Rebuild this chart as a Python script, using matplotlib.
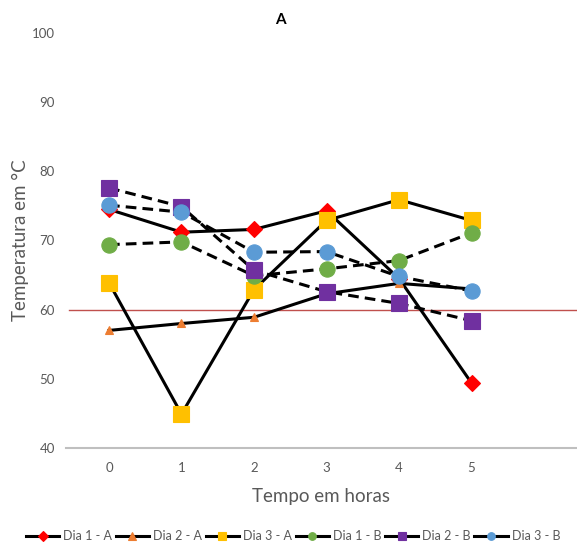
import matplotlib
matplotlib.use("Agg")
import matplotlib.pyplot as plt

plt.rcParams['font.family'] = ['Lato', 'DejaVu Sans']

hours = [0, 1, 2, 3, 4, 5]
tick_labels = ["0", "1", "2", "3", "4", "5"]

dia1_a = [74.5, 71.2, 71.6, 74.3, 64.5, 49.4]
dia2_a = [57.0, 58.0, 58.9, 62.3, 63.8, 63.0]
dia3_a = [63.9, 44.9, 62.9, 72.9, 75.9, 72.9]
dia1_b = [69.4, 69.8, 64.9, 65.9, 67.1, 71.1]
dia2_b = [77.6, 74.9, 65.7, 62.6, 60.9, 58.4]
dia3_b = [75.1, 74.1, 68.3, 68.4, 64.8, 62.7]

names = ["Dia 1 - A", "Dia 2 - A", "Dia 3 - A", "Dia 1 - B", "Dia 2 - B", "Dia 3 - B"]
series = [dia1_a, dia2_a, dia3_a, dia1_b, dia2_b, dia3_b]
colors = ["#FF0000", "#ED7D31", "#FFC000", "#70AD47", "#7030A0", "#5B9BD5"]
markers = ["D", "^", "s", "o", "s", "o"]
msizes = [8, 6, 11.5, 11, 11, 11]
styles = ["-", "-", "-", (0, (3.5, 2)), (0, (3.5, 2)), (0, (3.5, 2))]

W, H = 577, 543
fig = plt.figure(figsize=(W / 100, H / 100), dpi=100)
ax = fig.add_axes([66 / W, (H - 448) / H, (577 - 66) / W, (448 - 33) / H])

gray = "#595959"
ax.axhline(60, color="#C0504D", lw=1.0, zorder=1, xmin=0.006)

for name, vals, c, m, ms, ls in zip(names, series, colors, markers, msizes, styles):
    ax.plot(hours, vals, color="black", lw=2.2, linestyle=ls, marker=m,
            markersize=ms, markerfacecolor=c, markeredgecolor=c,
            markeredgewidth=0.8, label=name, zorder=3)

ax.set_xlim(-0.593, 6.455)
ax.set_ylim(40, 100)
ax.set_yticks([40, 50, 60, 70, 80, 90, 100])
ax.set_xticks(hours)
ax.set_xticklabels(tick_labels)
ax.tick_params(axis="both", length=0, labelsize=9.5, colors=gray)
ax.tick_params(axis="y", pad=8)
ax.tick_params(axis="x", pad=10)

for s in ["top", "right", "left"]:
    ax.spines[s].set_visible(False)
ax.spines["bottom"].set_color("#BFBFBF")
ax.spines["bottom"].set_linewidth(1.5)

ax.set_xlabel("Tempo em horas", fontsize=13.5, color=gray, labelpad=10)
ax.set_ylabel("Temperatura em °C", fontsize=13.5, color=gray, labelpad=2)
fig.text(280 / W, 1 - 20.5 / H, "A", ha="center", va="center",
         fontsize=11, fontweight="bold", color="black")

leg = fig.legend(loc="center", bbox_to_anchor=(293 / W, 1 - 536 / H), ncol=6,
                 frameon=False, fontsize=9, handlelength=2.65,
                 columnspacing=0.3, handletextpad=0.32, borderaxespad=0,
                 borderpad=0)
for t in leg.get_texts():
    t.set_color(gray)
for h in leg.legend_handles:
    h.set_linestyle("-")
    h.set_markersize(5.5)

fig.savefig("out.png", dpi=100)
